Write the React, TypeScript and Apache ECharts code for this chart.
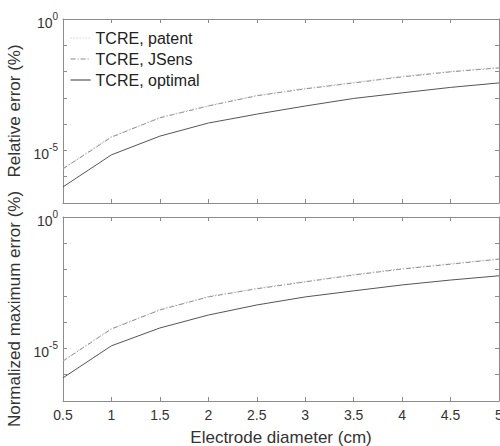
import React, { useEffect, useRef } from "react";
import * as echarts from "echarts";

const diameters = [0.5, 1, 1.5, 2, 2.5, 3, 3.5, 4, 4.5, 5];

// Relative error (%)
const relPatent = [2.1e-6, 3.4e-5, 1.8e-4, 5.1e-4, 1.25e-3, 2.3e-3, 3.9e-3, 6.6e-3, 1.02e-2, 1.45e-2];
const relJSens = [2.0e-6, 3.2e-5, 1.74e-4, 4.9e-4, 1.2e-3, 2.2e-3, 3.7e-3, 6.3e-3, 9.8e-3, 1.38e-2];
const relOptimal = [4.1e-7, 6.8e-6, 3.5e-5, 1.1e-4, 2.4e-4, 4.9e-4, 9.5e-4, 1.55e-3, 2.5e-3, 3.7e-3];

// Normalized maximum error (%)
const nmePatent = [3.45e-6, 5.8e-5, 3.05e-4, 9.5e-4, 1.95e-3, 3.55e-3, 6.5e-3, 1.1e-2, 1.68e-2, 2.6e-2];
const nmeJSens = [3.3e-6, 5.5e-5, 2.9e-4, 9.1e-4, 1.86e-3, 3.4e-3, 6.2e-3, 1.05e-2, 1.6e-2, 2.5e-2];
const nmeOptimal = [7.6e-7, 1.26e-5, 6.0e-5, 1.86e-4, 4.5e-4, 9.1e-4, 1.55e-3, 2.6e-3, 4.0e-3, 5.8e-3];

const seriesNames = ["TCRE, patent", "TCRE, JSens", "TCRE, optimal"];
const yLabelExponents = [0, -5];
const yNames = ["Relative error (%)", "Normalized maximum error (%)"];
const xName = "Electrode diameter (cm)";

const FONT = "Liberation Sans, Arial, Helvetica, sans-serif";
const AXIS_COLOR = "#8c8c8c";
const TEXT_COLOR = "#333";

const styles = [
  { color: "#bdbdbd", type: [1, 2] as any },
  { color: "#8a8a8a", type: [5, 2, 1, 2] as any },
  { color: "#555555", type: "solid" as any },
];

export default function App() {
  const ref = useRef<HTMLDivElement>(null);
  useEffect(() => {
    if (!ref.current) return;
    const chart = echarts.init(ref.current, undefined, { renderer: "svg" });

    const pair = (xs: number[], ys: number[]) => xs.map((x, i) => [x, ys[i]]);

    const yFormatter = (v: number) => {
      const e = Math.round(Math.log10(v));
      if (yLabelExponents.includes(e) && Math.abs(Math.log10(v) - e) < 1e-6) {
        return `{b|10}{s|${e}}`;
      }
      return "";
    };

    const grids = [
      { left: 63, top: 19, width: 436, height: 184, outerBoundsMode: "none", containLabel: false },
      { left: 63, top: 217, width: 436, height: 184, outerBoundsMode: "none", containLabel: false },
    ];

    const baseX = (gridIndex: number, position: string, showLabels: boolean) => ({
      type: "value",
      gridIndex,
      position,
      min: 0.5,
      max: 5,
      interval: 0.5,
      axisLine: { show: true, onZero: false, lineStyle: { color: AXIS_COLOR, width: 1 } },
      axisTick: { show: true, inside: true, length: 4, lineStyle: { color: AXIS_COLOR } },
      axisLabel: {
        show: showLabels,
        color: TEXT_COLOR,
        fontSize: 14,
        fontFamily: FONT,
        margin: 7,
        hideOverlap: false,
      },
      splitLine: { show: false },
    });

    const baseY = (gridIndex: number, position: string, showLabels: boolean, name?: string) => ({
      type: "log",
      logBase: 10,
      gridIndex,
      position,
      min: 1e-7,
      max: 1,
      interval: 1,
      name: name,
      nameLocation: "middle",
      nameGap: 33,
      nameTextStyle: { color: TEXT_COLOR, fontSize: 17, fontFamily: FONT },
      axisLine: { show: true, onZero: false, lineStyle: { color: AXIS_COLOR, width: 1 } },
      axisTick: { show: true, inside: true, length: 4, lineStyle: { color: AXIS_COLOR } },
      axisLabel: {
        show: showLabels,
        formatter: yFormatter,
        margin: 5,
        rich: {
          b: { fontSize: 14, color: TEXT_COLOR, fontFamily: FONT, padding: [7, 0, 0, 0] },
          s: { fontSize: 10, color: TEXT_COLOR, fontFamily: FONT, padding: [0, 0, 5, 0] },
        },
      },
      splitLine: { show: false },
    });

    const xAxis: any[] = [
      baseX(0, "bottom", false),
      { ...baseX(1, "bottom", true), name: xName, nameLocation: "middle", nameGap: 28, nameTextStyle: { color: TEXT_COLOR, fontSize: 17, fontFamily: FONT } },
      baseX(0, "top", false),
      baseX(1, "top", false),
    ];
    const yAxis: any[] = [
      baseY(0, "left", true, yNames[0]),
      baseY(1, "left", true, yNames[1]),
      baseY(0, "right", false),
      baseY(1, "right", false),
    ];

    const mk = (name: string, idx: number, data: number[], panel: number) => ({
      name,
      type: "line",
      xAxisIndex: panel,
      yAxisIndex: panel,
      data: pair(diameters, data),
      symbol: "none",
      showSymbol: false,
      lineStyle: { color: styles[idx].color, width: 1, type: styles[idx].type },
      itemStyle: { color: styles[idx].color },
      z: 3 - idx,
    });

    const option: any = {
      animation: false,
      backgroundColor: "#ffffff",
      grid: grids,
      xAxis,
      yAxis,
      legend: {
        orient: "vertical",
        left: 65,
        top: 25,
        itemWidth: 20,
        itemHeight: 14,
        itemGap: 5,
        itemStyle: { opacity: 0 },
        lineStyle: { width: 1.2 },
        data: seriesNames,
        textStyle: { color: "#222", fontSize: 16, fontFamily: FONT },
      },
      series: [
        mk(seriesNames[0], 0, relPatent, 0),
        mk(seriesNames[1], 1, relJSens, 0),
        mk(seriesNames[2], 2, relOptimal, 0),
        mk(seriesNames[0], 0, nmePatent, 1),
        mk(seriesNames[1], 1, nmeJSens, 1),
        mk(seriesNames[2], 2, nmeOptimal, 1),
      ],
    };
    chart.setOption(option);
    return () => chart.dispose();
  }, []);
  return (
    <div
      ref={ref}
      style={{ position: "fixed", left: 0, top: 0, width: 500, height: 446, background: "#fff" }}
    />
  );
}
